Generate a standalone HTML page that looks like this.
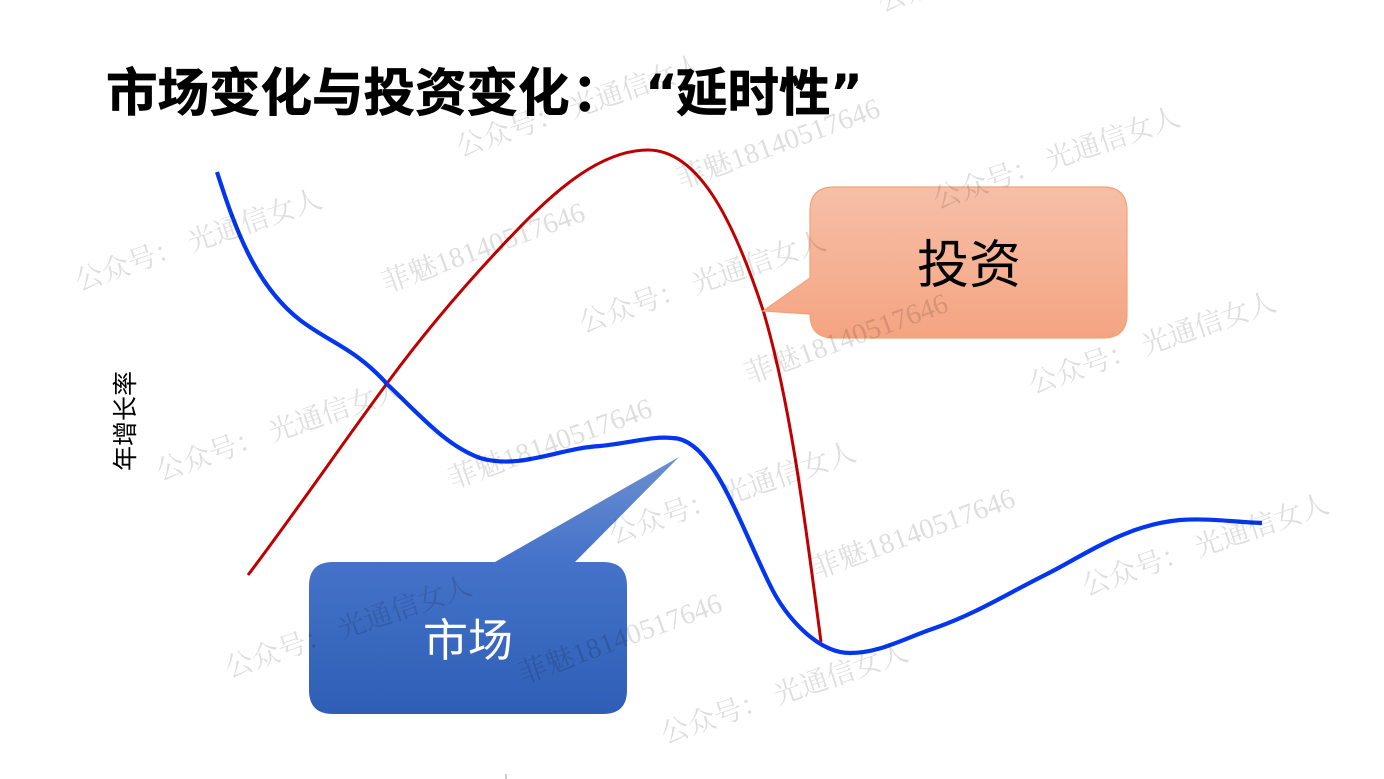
<!DOCTYPE html>
<html lang="zh">
<head>
<meta charset="utf-8">
<title>市场变化与投资变化</title>
<style>
html,body{margin:0;padding:0;background:#fff;width:1384px;height:779px;overflow:hidden}
svg{display:block}
.t{font-family:"Liberation Sans","Noto Sans CJK SC",sans-serif}
.h{font-size:51.5px;font-weight:700;fill:#000;stroke:#000;stroke-width:.7}
.q{font-family:"DejaVu Sans",sans-serif;font-size:50px;font-weight:700;fill:#000}
.w1,.w2{font-family:"Liberation Serif","Noto Serif CJK SC",serif;font-size:28px;fill:#000;fill-opacity:.13}
</style>
</head>
<body>
<svg width="1384" height="779" viewBox="0 0 1384 779" xmlns="http://www.w3.org/2000/svg">
<defs>
<linearGradient id="o" x1="0" y1="0" x2="0" y2="1"><stop offset="0" stop-color="#f6bfa8"/><stop offset="1" stop-color="#f5a481"/></linearGradient>
<linearGradient id="b" gradientUnits="userSpaceOnUse" x1="0" y1="457" x2="0" y2="714"><stop offset="0" stop-color="#6c8fd0"/><stop offset=".4" stop-color="#4573ca"/><stop offset="1" stop-color="#2e5eb5"/></linearGradient>
</defs>
<rect width="1384" height="779" fill="#fff"/>

<text class="t h" x="106" y="111">市场变化与投资变化</text>
<text class="t h" x="572" y="111">：</text>
<text class="q" x="645" y="110">“</text>
<text class="t h" x="676" y="111">延时性</text>
<text class="q" x="830" y="110">”</text>

<path d="M248,575 C290,520 345,440 388,382 C430,325 470,280 500,248 C545,200 595,150 648,150 C700,150 735,225 763,310 C790,400 805,520 821,642" fill="none" stroke="#c00000" stroke-width="3"/>
<path d="M217,172 C235,228 255,285 300,320 C330,343 355,348 388,385 C420,415 445,445 480,458 C520,470 560,448 600,446 C630,443 652,436 672,438 C712,438 738,520 770,585 C786,618 818,653 850,653 C880,653 905,638 935,628 C975,614 1005,595 1045,575 C1085,555 1125,525 1180,520 C1210,518 1235,522 1262,523" fill="none" stroke="#0436ef" stroke-width="4.2"/>

<path d="M834,187 H1103 Q1127,187 1127,211 V314 Q1127,338 1103,338 H834 Q810,338 810,314 L763,311 L810,278 V211 Q810,187 834,187 Z" fill="url(#o)" stroke="#f4a273" stroke-width="1.2"/>
<text class="t" x="917" y="283" font-size="52" fill="#000">投资</text>

<path d="M333,562 H495 L679,457 L575,562 H603 Q627,562 627,586 V690 Q627,714 603,714 H333 Q309,714 309,690 V586 Q309,562 333,562 Z" fill="url(#b)"/>
<text class="t" x="423" y="656" font-size="45" fill="#fff">市场</text>

<text class="t" transform="translate(134,471) rotate(-90)" font-size="25" fill="#000">年增长率</text>

<g class="w1">
<text transform="translate(79,291) rotate(-19)">公众号： 光通信女人</text>
<text transform="translate(460,157) rotate(-19)">公众号： 光通信女人</text>
<text transform="translate(937,209) rotate(-19)">公众号： 光通信女人</text>
<text transform="translate(583,333) rotate(-19)">公众号： 光通信女人</text>
<text transform="translate(160,481) rotate(-19)">公众号： 光通信女人</text>
<text transform="translate(1033,394) rotate(-19)">公众号： 光通信女人</text>
<text transform="translate(613,544) rotate(-19)">公众号： 光通信女人</text>
<text transform="translate(229,678) rotate(-19)">公众号： 光通信女人</text>
<text transform="translate(1086,596) rotate(-19)">公众号： 光通信女人</text>
<text transform="translate(665,744) rotate(-19)">公众号： 光通信女人</text>
<text transform="translate(882,12) rotate(-19)">公众号</text>
</g>
<g class="w2" style="font-size:28.5px">
<text transform="translate(386,293) rotate(-20)">菲魅18140517646</text>
<text transform="translate(681,189) rotate(-20)">菲魅18140517646</text>
<text transform="translate(749,384) rotate(-20)">菲魅18140517646</text>
<text transform="translate(453,489) rotate(-20)">菲魅18140517646</text>
<text transform="translate(816,579) rotate(-20)">菲魅18140517646</text>
<text transform="translate(523,684) rotate(-20)">菲魅18140517646</text>
</g>
<rect x="505" y="774" width="2" height="5" fill="#000" fill-opacity=".2"/>
</svg>
</body>
</html>
